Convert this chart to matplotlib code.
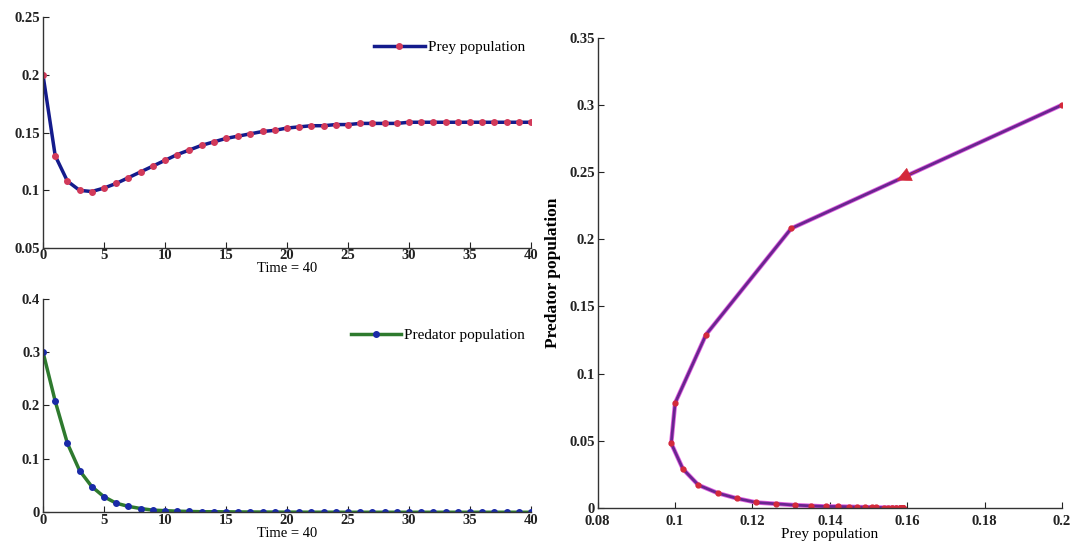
import numpy as np
import matplotlib
matplotlib.use('Agg')
import matplotlib.pyplot as plt

plt.rcParams['font.family'] = ['Liberation Serif', 'DejaVu Serif']

# time steps 0..40
time = list(range(41))
prey = [0.200, 0.130, 0.108, 0.100, 0.099, 0.102, 0.106, 0.111, 0.116, 0.121,
        0.126, 0.131, 0.135, 0.139, 0.142, 0.145, 0.147, 0.149, 0.151, 0.152,
        0.154, 0.155, 0.156, 0.156, 0.157, 0.157, 0.158, 0.158, 0.158, 0.158,
        0.159, 0.159, 0.159, 0.159, 0.159, 0.159, 0.159, 0.159, 0.159, 0.159,
        0.159]
predator = [0.300, 0.208, 0.129, 0.078, 0.048, 0.029, 0.017, 0.011, 0.007, 0.004,
            0.003, 0.002, 0.0015, 0.001, 0.001, 0.0008, 0.0006, 0.0005, 0.0004, 0.0003,
            0.0002, 0.0002, 0.0001, 0.0001, 0.0001, 0.0, 0.0, 0.0, 0.0, 0.0,
            0.0, 0.0, 0.0, 0.0, 0.0, 0.0, 0.0, 0.0, 0.0, 0.0, 0.0]

time_ticks = [0, 5, 10, 15, 20, 25, 30, 35, 40]
prey_ticks = [0.05, 0.1, 0.15, 0.2, 0.25]
pred_ticks = [0, 0.1, 0.2, 0.3, 0.4]
phase_xticks = [0.08, 0.1, 0.12, 0.14, 0.16, 0.18, 0.2]
phase_yticks = [0, 0.05, 0.1, 0.15, 0.2, 0.25, 0.3, 0.35]


def style(ax, xpad=1):
    ax.spines['top'].set_visible(False)
    ax.spines['right'].set_visible(False)
    for s in ('left', 'bottom'):
        ax.spines[s].set_color('#333333')
        ax.spines[s].set_linewidth(1.0)
    ax.tick_params(direction='in', length=4, width=0.8, colors='#222222')
    ax.tick_params(axis='x', pad=xpad)
    ax.tick_params(axis='y', pad=2)
    for lab in ax.get_xticklabels() + ax.get_yticklabels():
        lab.set_fontsize(10.5)
        lab.set_fontweight('bold')


fig = plt.figure(figsize=(10.75, 5.55), dpi=100)

# prey vs time
ax1 = fig.add_axes([0.040, 0.553, 0.454, 0.416])
ax1.plot(time, prey, color='#141b8c', linewidth=2.5, marker='o', markersize=4,
         markerfacecolor='#d23a5a', markeredgecolor='#d23a5a', label='Prey population')
ax1.set_xlim(0, 40)
ax1.set_ylim(0.05, 0.25)
ax1.set_xticks(time_ticks)
ax1.set_xticklabels(['%g' % v for v in time_ticks])
ax1.set_yticks(prey_ticks)
ax1.set_yticklabels(['%g' % v for v in prey_ticks])
ax1.set_xlabel('Time = 40', fontsize=10.5, labelpad=0)
ax1.legend(loc='upper right', bbox_to_anchor=(1.0, 0.925), frameon=False,
           fontsize=11, handlelength=3.3, handletextpad=0.2, borderaxespad=0)
style(ax1)

# predator vs time
ax2 = fig.add_axes([0.040, 0.077, 0.454, 0.385])
ax2.plot(time, predator, color='#2e7a2e', linewidth=2.5, marker='o', markersize=4,
         markerfacecolor='#1a2aa8', markeredgecolor='#1a2aa8', label='Predator population')
ax2.set_xlim(0, 40)
ax2.set_ylim(0, 0.4)
ax2.set_xticks(time_ticks)
ax2.set_xticklabels(['%g' % v for v in time_ticks])
ax2.set_yticks(pred_ticks)
ax2.set_yticklabels(['%g' % v for v in pred_ticks])
ax2.set_xlabel('Time = 40', fontsize=10.5, labelpad=0)
ax2.legend(loc='upper right', bbox_to_anchor=(1.0, 0.89), frameon=False,
           fontsize=11, handlelength=3.3, handletextpad=0.2, borderaxespad=0)
style(ax2)

# phase portrait
ax3 = fig.add_axes([0.556, 0.085, 0.432, 0.847])
ax3.plot(prey, predator, color='#e060e0', linewidth=3.2, solid_capstyle='round')
ax3.plot(prey, predator, color='#6a2590', linewidth=2.0, marker='o', markersize=3.5,
         markerfacecolor='#d42a3a', markeredgecolor='#d42a3a')
# direction arrow on first segment
frac = 0.62
hx = prey[0] + frac * (prey[1] - prey[0])
hy = predator[0] + frac * (predator[1] - predator[0])
tx = prey[0] + (frac - 0.1) * (prey[1] - prey[0])
ty = predator[0] + (frac - 0.1) * (predator[1] - predator[0])
ax3.annotate('', xy=(hx, hy), xytext=(tx, ty),
             arrowprops=dict(arrowstyle='-|>', color='#d42a3a', lw=0.5, mutation_scale=24))
ax3.set_xlim(0.08, 0.2)
ax3.set_ylim(0, 0.35)
ax3.set_xticks(phase_xticks)
ax3.set_xticklabels(['%g' % v for v in phase_xticks])
ax3.set_yticks(phase_yticks)
ax3.set_yticklabels(['%g' % v for v in phase_yticks])
ax3.set_xlabel('Prey population', fontsize=11, labelpad=0)
ax3.set_ylabel('Predator population', fontsize=12.5, fontweight='bold', labelpad=6)
style(ax3, xpad=5)

fig.savefig('out.png', dpi=100, facecolor='white')
